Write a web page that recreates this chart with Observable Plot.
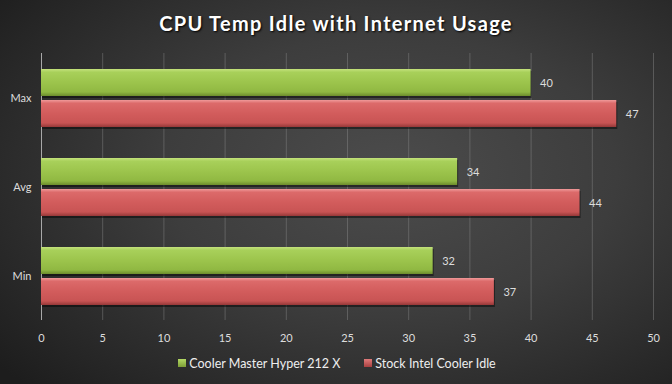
<!DOCTYPE html>
<html>
<head>
<meta charset="utf-8">
<script src="https://cdn.jsdelivr.net/npm/d3@7"></script>
<script src="https://cdn.jsdelivr.net/npm/@observablehq/plot@0.6"></script>
<style>
  html, body { margin: 0; padding: 0; background: #222; }
  #wrap {
    width: 672px; height: 384px; position: relative; overflow: hidden;
    background: radial-gradient(ellipse 75% 80% at 58% 45%, #4c4c4c 0%, #3d3d3d 45%, #262626 85%, #1d1d1d 100%);
    font-family: Lato, "Open Sans", sans-serif;
  }
  #title {
    height: 40px; line-height: 46px; text-align: center; color: #fff;
    font-family: Lato, sans-serif; font-weight: 700; font-size: 20px; letter-spacing: 1.3px;
    text-shadow: 1px 1px 2px #000;
  }
  #chart svg { display: block; background: transparent; }
  #legend {
    height: 34px; display: flex; justify-content: center; align-items: center;
    color: #eee; font-size: 12.5px; gap: 24px; padding-left: 2px; margin-top: -4px;
  }
  .item { display: flex; align-items: center; gap: 3px; }
  .sw { width: 8px; height: 8px; display: inline-block; }
</style>
</head>
<body>
<div id="wrap">
  <div id="title">CPU Temp Idle with Internet Usage</div>
  <div id="chart"></div>
  <div id="legend"></div>
</div>
<script>
const categories = ["Max", "Avg", "Min"];
const seriesNames = ["Cooler Master Hyper 212 X", "Stock Intel Cooler Idle"];
const coolerMaster = [40, 34, 32];
const stockIntel = [47, 44, 37];
const xTicks = [0, 5, 10, 15, 20, 25, 30, 35, 40, 45, 50];
const seriesFills = ["url(#gGreen)", "url(#gRed)"];

const rows = [];
categories.forEach((c, i) => {
  rows.push({cat: c, series: seriesNames[0], value: coolerMaster[i]});
  rows.push({cat: c, series: seriesNames[1], value: stockIntel[i]});
});

const plot = Plot.plot({
  width: 672,
  height: 310,
  marginLeft: 41,
  marginRight: 19,
  marginTop: 12,
  marginBottom: 30,
  style: {background: "transparent", fontFamily: "Lato, 'Open Sans', sans-serif", fontSize: "11px", color: "#ddd"},
  x: {domain: [0, 50]},
  fy: {domain: categories, padding: 0},
  y: {domain: seriesNames, paddingInner: 0.13, paddingOuter: 0.48, axis: null},
  color: {domain: seriesNames, range: seriesFills},
  marks: [
    Plot.gridX(xTicks, {stroke: "#8a8a8a", strokeOpacity: 0.45, strokeWidth: 1}),
    Plot.ruleX([0], {stroke: "#a8a8a8", strokeWidth: 1}),
    Plot.barX(rows, {x: "value", y: "series", fy: "cat", fill: "#000", fillOpacity: 0.45, dx: 1, dy: 2}),
    Plot.barX(rows, {x: "value", y: "series", fy: "cat", fill: "series"}),
    Plot.text(rows, {x: "value", y: "series", fy: "cat", text: d => String(d.value), dx: 9, textAnchor: "start", fill: "#ddd", fontSize: 11}),
    Plot.axisX({ticks: xTicks, tickSize: 0, tickPadding: 14, label: null, fill: "#ddd", anchor: "bottom"}),
    Plot.axisFy({anchor: "left", tickSize: 0, tickPadding: 10, label: null, fill: "#ddd"})
  ]
});

const svg = d3.select(plot);
const defs = svg.insert("defs", ":first-child");
function grad(id, stops) {
  const g = defs.append("linearGradient").attr("id", id)
    .attr("x1", 0).attr("y1", 0).attr("x2", 0).attr("y2", 1);
  stops.forEach(([o, c]) => g.append("stop").attr("offset", o).attr("stop-color", c));
}
grad("gGreen", [[0, "#c4e27c"], [0.12, "#a8d05a"], [0.5, "#9cc44c"], [0.85, "#90b842"], [1, "#6c8c2c"]]);
grad("gRed", [[0, "#f09a9a"], [0.12, "#dc6a6a"], [0.5, "#d25c5c"], [0.85, "#c85454"], [1, "#963838"]]);

document.getElementById("chart").appendChild(plot);

const legend = document.getElementById("legend");
const swatchColors = [["#b3d865", "#7d9e36"], ["#e07a7a", "#a84040"]];
seriesNames.forEach((name, i) => {
  const item = document.createElement("div");
  item.className = "item";
  const sw = document.createElement("span");
  sw.className = "sw";
  sw.style.background = `linear-gradient(${swatchColors[i][0]}, ${swatchColors[i][1]})`;
  const t = document.createElement("span");
  t.textContent = name;
  item.appendChild(sw);
  item.appendChild(t);
  legend.appendChild(item);
});
</script>
</body>
</html>
